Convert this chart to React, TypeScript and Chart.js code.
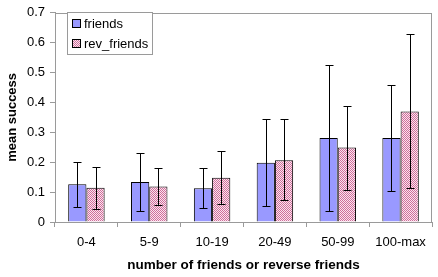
import React, { useEffect, useRef } from "react";
import { Chart, registerables } from "chart.js";

Chart.register(...registerables);

const categories = ["0-4", "5-9", "10-19", "20-49", "50-99", "100-max"];
const friends = [0.126, 0.134, 0.113, 0.198, 0.281, 0.281];
const friendsLow = [0.051, 0.036, 0.048, 0.054, 0.036, 0.104];
const friendsHigh = [0.2, 0.231, 0.181, 0.343, 0.526, 0.458];
const revFriends = [0.115, 0.119, 0.148, 0.207, 0.249, 0.37];
const revLow = [0.043, 0.057, 0.06, 0.074, 0.107, 0.113];
const revHigh = [0.183, 0.181, 0.237, 0.343, 0.387, 0.63];
const seriesNames = ["friends", "rev_friends"];

const FONT = "'Liberation Sans', Arial, sans-serif";

function makePattern(): CanvasPattern | string {
  const c = document.createElement("canvas");
  c.width = 2;
  c.height = 2;
  const g = c.getContext("2d");
  if (!g) return "#e6a0c0";
  g.fillStyle = "#fbe4ee";
  g.fillRect(0, 0, 2, 2);
  g.fillStyle = "#cf6f9b";
  g.fillRect(0, 0, 1, 1);
  g.fillRect(1, 1, 1, 1);
  return g.createPattern(c, "repeat") || "#e6a0c0";
}

export default function App() {
  const ref = useRef<HTMLCanvasElement | null>(null);
  useEffect(() => {
    if (!ref.current) return;
    const pattern = makePattern();
    const lows = [friendsLow, revLow];
    const highs = [friendsHigh, revHigh];
    const fills: any[] = ["#9999ff", pattern];

    const extras = {
      id: "extras",
      beforeDatasetsDraw(chart: any) {
        const { ctx, chartArea: a } = chart;
        ctx.save();
        ctx.strokeStyle = "#9a9a9a";
        ctx.lineWidth = 1;
        ctx.strokeRect(Math.round(a.left) + 0.5, Math.round(a.top) + 0.5, Math.round(a.right - a.left) - 1, Math.round(a.bottom - a.top));
        ctx.restore();
      },
      afterDatasetsDraw(chart: any) {
        const { ctx } = chart;
        const y = chart.scales.y;
        ctx.save();
        ctx.strokeStyle = "#000";
        ctx.lineWidth = 1;
        chart.data.datasets.forEach((_: any, di: number) => {
          const meta = chart.getDatasetMeta(di);
          meta.data.forEach((bar: any, i: number) => {
            const x = Math.round(bar.x) + 0.5;
            const yl = Math.round(y.getPixelForValue(lows[di][i])) + 0.5;
            const yh = Math.round(y.getPixelForValue(highs[di][i])) + 0.5;
            ctx.beginPath();
            ctx.moveTo(x, yl);
            ctx.lineTo(x, yh);
            ctx.moveTo(x - 4, yl);
            ctx.lineTo(x + 4, yl);
            ctx.moveTo(x - 4, yh);
            ctx.lineTo(x + 4, yh);
            ctx.stroke();
          });
        });
        // legend
        const lx = 67, ly = 12, lw = 85, lh = 42;
        ctx.fillStyle = "#fff";
        ctx.fillRect(lx, ly, lw, lh);
        ctx.strokeStyle = "#9a9a9a";
        ctx.strokeRect(lx + 0.5, ly + 0.5, lw, lh);
        ctx.font = `13px ${FONT}`;
        ctx.textBaseline = "middle";
        ctx.textAlign = "left";
        seriesNames.forEach((name, k) => {
          const cy = 24 + k * 20;
          ctx.fillStyle = fills[k];
          ctx.fillRect(72, cy - 4, 8, 8);
          ctx.strokeStyle = "#000";
          ctx.strokeRect(72.5, cy - 4.5, 8, 8);
          ctx.fillStyle = "#000";
          ctx.fillText(name, 84, cy);
        });
        ctx.restore();
      },
    };

    const chart = new Chart(ref.current, {
      type: "bar",
      data: {
        labels: categories,
        datasets: [
          { label: seriesNames[0], data: friends, backgroundColor: fills[0], borderColor: "#000", borderWidth: 1 },
          { label: seriesNames[1], data: revFriends, backgroundColor: fills[1], borderColor: "#000", borderWidth: 1 },
        ],
      },
      options: {
        responsive: false,
        animation: false,
        layout: { padding: { top: 8, right: 6, left: 0, bottom: 0 } },
        datasets: { bar: { categoryPercentage: 0.58, barPercentage: 1 } },
        plugins: { legend: { display: false }, tooltip: { enabled: false } },
        scales: {
          x: {
            grid: { offset: true, drawOnChartArea: false, color: "#9a9a9a", tickLength: 5 },
            border: { color: "#9a9a9a" },
            ticks: { color: "#000", font: { family: FONT, size: 13 }, padding: 8 },
            title: { display: true, text: "number of friends or reverse friends", color: "#000", font: { family: FONT, size: 13.5, weight: "bold" }, padding: { top: 4, bottom: 4 } },
            afterFit(s: any) { s.height = 55; },
          },
          y: {
            min: 0,
            max: 0.7,
            ticks: { stepSize: 0.1, color: "#000", font: { family: FONT, size: 13 }, padding: 5 },
            grid: { drawOnChartArea: false, color: "#9a9a9a", tickLength: 5 },
            border: { color: "#9a9a9a" },
            title: { display: true, text: "mean success", color: "#000", font: { family: FONT, size: 13, weight: "bold" }, padding: { top: 5, bottom: 0 } },
            afterFit(s: any) { s.width = 55; },
          },
        },
      },
      plugins: [extras],
    });
    return () => chart.destroy();
  }, []);
  return (
    <div style={{ position: "fixed", left: 0, top: 0, width: 438, height: 277, background: "#fff" }}>
      <canvas ref={ref} width={438} height={277} />
    </div>
  );
}
